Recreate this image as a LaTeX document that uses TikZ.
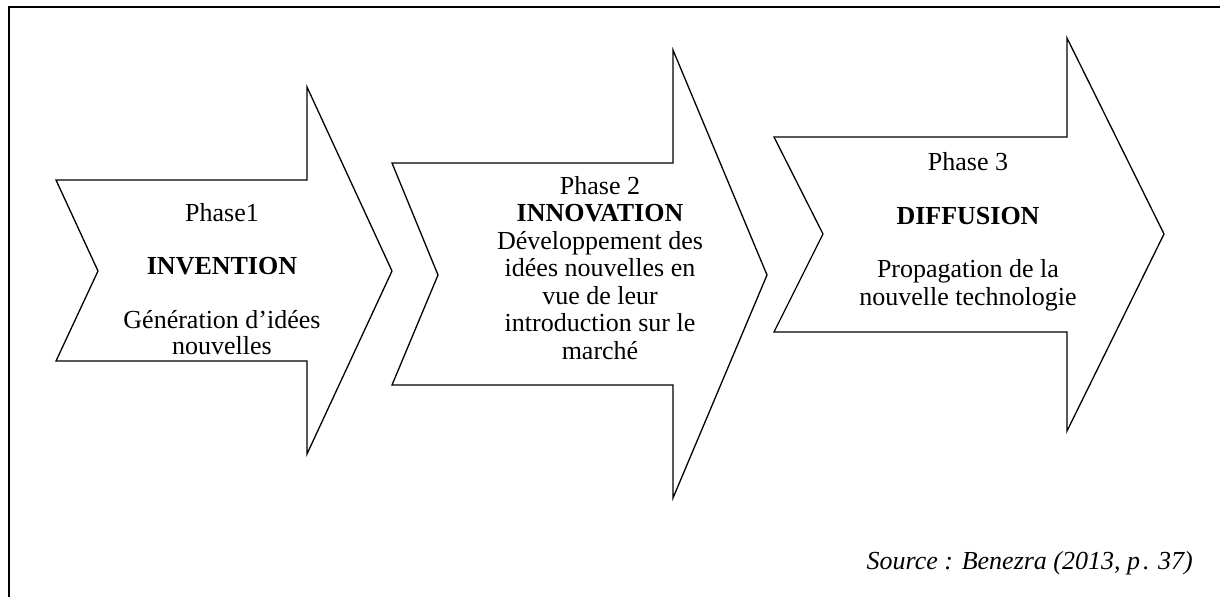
\documentclass[tikz,border=0pt]{standalone}
\usepackage{fontspec}
\setmainfont{Liberation Serif}
\begin{document}
\begin{tikzpicture}[x=1pt,y=-1pt,
  arrowshape/.style={draw, line width=1.3pt, line join=miter, fill=white},
  lbl/.style={align=center, font=\fontsize{26}{27.5}\selectfont, inner sep=0pt},
  frame/.style={line width=2pt}]
\useasboundingbox (0,0) rectangle (1220,597);
\draw[frame] (9,597) -- (9,7) -- (1220,7);
% arrow 1
\draw[arrowshape] (56,180) -- (307,180) -- (307,87) -- (392,271) -- (307,454) -- (307,361) -- (56,361) -- (98,271) -- cycle;
% arrow 2
\draw[arrowshape] (392,163) -- (673,163) -- (673,50) -- (767,275) -- (673,498) -- (673,385) -- (392,385) -- (438,275) -- cycle;
% arrow 3
\draw[arrowshape] (774,137) -- (1067,137) -- (1067,38) -- (1164,234) -- (1067,431) -- (1067,332) -- (774,332) -- (823,234) -- cycle;
\node[lbl, font=\fontsize{26}{26.5}\selectfont] (t1) at (222,279) {Phase1\\[26.5pt]\textbf{INVENTION}\\[27.5pt]Génération d’idées\\nouvelles};
\node[lbl] (t2) at (600,268) {Phase 2\\\textbf{INNOVATION}\\Développement des\\idées nouvelles en\\vue de leur\\introduction sur le\\marché};
\node[lbl] (t3) at (968,232) {Phase 3\\[26pt]\textbf{DIFFUSION}\\[26pt]Propagation de la\\nouvelle technologie};
\node[lbl, anchor=base east, font=\fontsize{26}{28}\selectfont\itshape] (src) at (1193,569) {Source : Benezra (2013, p\kern3pt.\kern2pt\ 37)};
\end{tikzpicture}
\end{document}
